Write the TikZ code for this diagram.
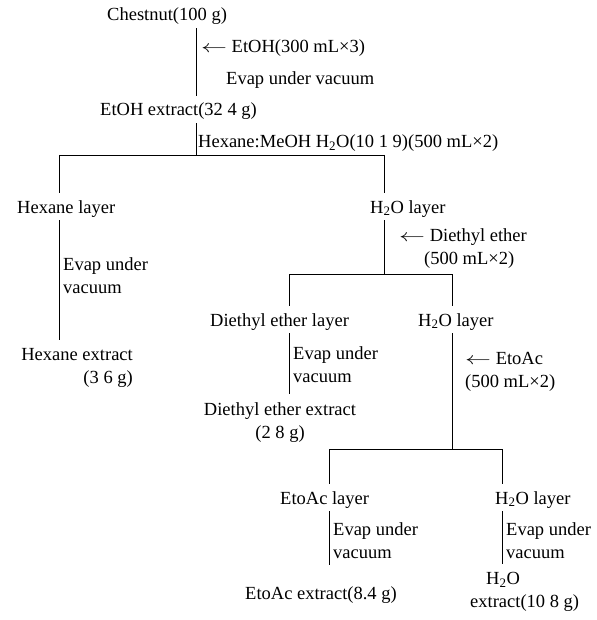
\documentclass[tikz,border=0pt]{standalone}
\usepackage{fontspec}
\usepackage{graphicx}
\setmainfont{Liberation Serif}
\newcommand{\larr}{\scalebox{1.5}[1]{$\leftarrow$}}
\begin{document}
\begin{tikzpicture}[x=1pt,y=-1pt,
  font=\fontsize{18.5}{23}\selectfont,
  txt/.style={inner xsep=0pt, inner ysep=0pt, text height=20pt, text depth=7pt, anchor=base west},
  blk/.style={inner xsep=0pt, inner ysep=8pt},
  note/.style={inner sep=0pt, anchor=north west, align=left},
  ln/.style={line width=0.8pt}]
\useasboundingbox (0,0) rectangle (596,620);

% nodes
\node[txt] (chest) at (107,21) {Chestnut(100 g)};
\node[note] (etohadd) at (201,39) {\larr\ EtOH(300 mL×3)};
\node[txt] (evap1) at (226,85) {Evap under vacuum};
\node[txt] (etoh) at (100,116) {EtOH extract(32 4 g)};
\node[txt] (solv) at (198,148) {Hexane:MeOH H\textsubscript{2}O(10 1 9)(500 mL×2)};
\node[txt] (hexl) at (17,213) {Hexane layer};
\node[txt] (h2oa) at (370,213) {H\textsubscript{2}O layer};
\node[note] (evap2) at (63,257) {Evap under\\vacuum};
\node[note] (deadd) at (399,228) {\larr\ Diethyl ether\\\hspace{25pt}(500 mL×2)};
\node[blk, anchor=north east, align=right] (hexe) at (133,340) {Hexane extract\\(3 6 g)};
\node[txt] (del) at (210,326) {Diethyl ether layer};
\node[txt] (h2ob) at (418,326) {H\textsubscript{2}O layer};
\node[note] (evap3) at (293,346) {Evap under\\vacuum};
\node[blk, anchor=north, align=center] (dee) at (280,394) {Diethyl ether extract\\(2 8 g)};
\node[note] (eaadd) at (465,352) {\larr\ EtoAc\\(500 mL×2)};
\node[txt] (eal) at (280,504) {EtoAc layer};
\node[txt] (h2oc) at (495,504) {H\textsubscript{2}O layer};
\node[note] (evap4) at (333,522) {Evap under\\vacuum};
\node[note] (evap5) at (506,522) {Evap under\\vacuum};
\node[txt] (eae) at (245,599) {EtoAc extract(8.4 g)};
\node[blk, anchor=north west, align=left] (h2oe) at (470,564) {\hspace{16pt}H\textsubscript{2}O\\extract(10 8 g)};

% junctions
\coordinate (j1) at (196,155);
\coordinate (a) at (59,155);
\coordinate (b) at (384,155);
\coordinate (j2) at (384,274);
\coordinate (c) at (289,274);
\coordinate (d) at (452,274);
\coordinate (e) at (329,449);
\coordinate (f) at (502,449);

% connectors
\draw[ln] (chest.south -| j1) -- (etoh.north -| j1);
\draw[ln] (etoh.south -| j1) -- (j1);
\draw[ln] (a) -- (b);
\draw[ln] (a) -- (hexl.north -| a);
\draw[ln] (hexl.south -| a) -- (hexe.north -| a);
\draw[ln] (b) -- (h2oa.north -| b);
\draw[ln] (h2oa.south -| b) -- (j2);
\draw[ln] (c) -- (d);
\draw[ln] (c) -- (del.north -| c);
\draw[ln] (del.south -| c) -- (dee.north -| c);
\draw[ln] (d) -- (h2ob.north -| d);
\draw[ln] (h2ob.south -| d) -- (d |- e);
\draw[ln] (e) -- (f);
\draw[ln] (e) -- (eal.north -| e);
\draw[ln, shorten >=14pt] (eal.south -| e) -- (eae.north -| e);
\draw[ln] (f) -- (h2oc.north -| f);
\draw[ln] (h2oc.south -| f) -- (h2oe.north -| f);
\end{tikzpicture}
\end{document}
